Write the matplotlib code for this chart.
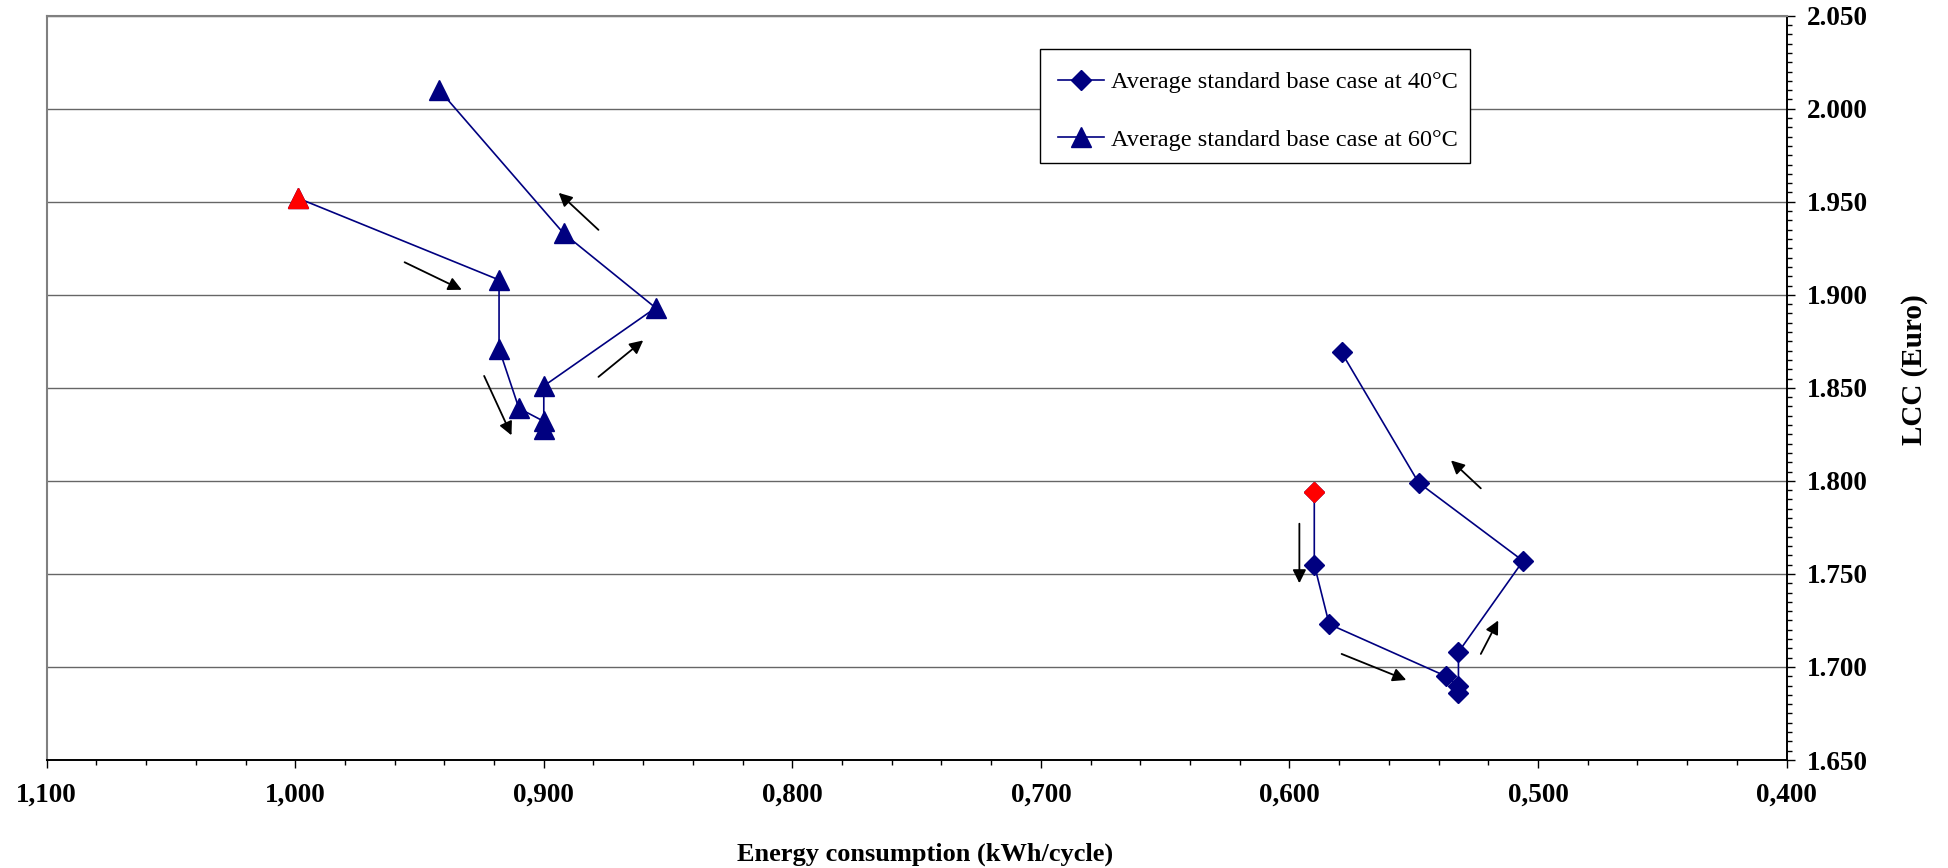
import numpy as np
import matplotlib
matplotlib.use('Agg')
import matplotlib.pyplot as plt
from matplotlib.patches import Rectangle
from matplotlib.ticker import MultipleLocator, FuncFormatter

plt.rcParams['font.family'] = ['Liberation Serif', 'DejaVu Serif']

# base case at 40 C (diamonds), first point is the starting base case
energy_40 = [0.590, 0.590, 0.584, 0.537, 0.532, 0.532, 0.532, 0.506, 0.548, 0.579]
lcc_40 = [1.794, 1.755, 1.723, 1.695, 1.690, 1.686, 1.708, 1.757, 1.799, 1.869]

# base case at 60 C (triangles)
energy_60 = [0.999, 0.918, 0.918, 0.910, 0.900, 0.900, 0.900, 0.855, 0.892, 0.942]
lcc_60 = [1.952, 1.908, 1.871, 1.839, 1.832, 1.828, 1.851, 1.893, 1.933, 2.010]

labels = ['Average standard base case at 40°C', 'Average standard base case at 60°C']

# direction arrows (start, end) in data units
arrows = [
    ((0.956, 1.9175), (0.933, 1.9027)),
    ((0.924, 1.8564), (0.913, 1.8245)),
    ((0.878, 1.8559), (0.860, 1.8755)),
    ((0.878, 1.9349), (0.894, 1.9548)),
    ((0.596, 1.777), (0.596, 1.745)),
    ((0.579, 1.707), (0.553, 1.693)),
    ((0.523, 1.707), (0.516, 1.725)),
    ((0.523, 1.796), (0.535, 1.811)),
]

navy = '#000080'

fig = plt.figure(figsize=(19.48, 8.68), dpi=100)
ax = fig.add_axes([0.02397, 0.12442, 0.89314, 0.85749])

ax.plot(energy_40, lcc_40, '-', color=navy, lw=1.2, marker='D', ms=10,
        mfc=navy, mec=navy, label=labels[0], zorder=3)
ax.plot(energy_60, lcc_60, '-', color=navy, lw=1.2, marker='^', ms=14.5,
        mfc=navy, mec=navy, label=labels[1], zorder=3)

# starting points in red
ax.plot(energy_40[0], lcc_40[0], 'D', ms=10, color='red', zorder=4)
ax.plot(energy_60[0], lcc_60[0], '^', ms=14.5, color='red', zorder=4)

for start, end in arrows:
    ax.annotate('', xy=end, xytext=start,
                arrowprops=dict(arrowstyle='-|>', color='black', lw=1.3,
                                mutation_scale=20, shrinkA=0, shrinkB=0))

ax.set_xlim(1.1, 0.4)
ax.set_ylim(1.65, 2.05)

ax.xaxis.set_major_locator(MultipleLocator(0.1))
ax.xaxis.set_minor_locator(MultipleLocator(0.02))
ax.yaxis.set_major_locator(MultipleLocator(0.05))
ax.yaxis.set_minor_locator(MultipleLocator(0.005))
ax.xaxis.set_major_formatter(FuncFormatter(lambda v, p: ('%.3f' % v).replace('.', ',')))
ax.yaxis.set_major_formatter(FuncFormatter(lambda v, p: '%.3f' % v))

ax.yaxis.tick_right()
ax.tick_params(axis='both', which='major', direction='out', length=5.5, width=1,
               labelsize=19.5)
ax.tick_params(axis='both', which='minor', direction='out', length=3.8, width=1)
ax.tick_params(axis='x', which='major', pad=11)
ax.tick_params(axis='y', which='major', pad=9)
for lab in ax.get_xticklabels() + ax.get_yticklabels():
    lab.set_fontweight('bold')

ax.grid(axis='y', which='major', color='#666666', lw=1.0)
ax.set_axisbelow(True)

for side in ['top', 'left']:
    ax.spines[side].set_color('#808080')
    ax.spines[side].set_linewidth(1.5)
for side in ['bottom', 'right']:
    ax.spines[side].set_color('black')
    ax.spines[side].set_linewidth(1.4)

ax.text(0.505, -0.127, 'Energy consumption (kWh/cycle)', transform=ax.transAxes,
        ha='center', va='center', fontsize=19, fontweight='bold')
ax.text(1.0733, 0.525, 'LCC (Euro)', transform=ax.transAxes, rotation=90,
        ha='center', va='center', fontsize=21, fontweight='bold')

# legend box drawn separately so the entries sit where wanted inside it
ax.add_patch(Rectangle((0.5709, 0.8017), 0.2472, 0.1531, transform=ax.transAxes,
                       facecolor='white', edgecolor='black', lw=1.0, zorder=6))
leg = ax.legend(loc='center left', bbox_to_anchor=(0.5811, 0.872), fontsize=17.5,
                frameon=False, borderpad=0, handlelength=1.9, handletextpad=0.3,
                labelspacing=1.45, borderaxespad=0)
leg.set_zorder(7)

fig.savefig('out.png', dpi=100)
